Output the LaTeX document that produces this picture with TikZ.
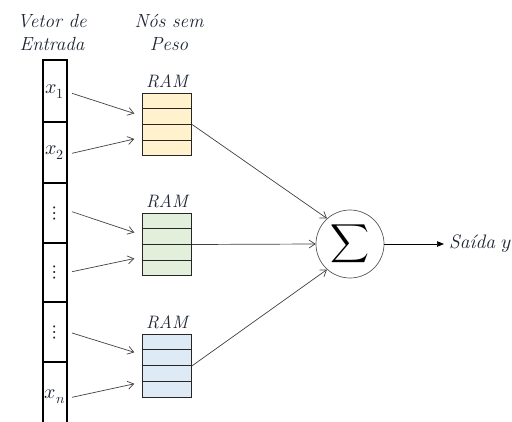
\documentclass[tikz,border=0pt]{standalone}
\usepackage{fontspec}
\usepackage{unicode-math}
\setmainfont{Latin Modern Roman}
\setmathfont{Latin Modern Math}
\usetikzlibrary{arrows.meta,calc}
\definecolor{ramyellow}{HTML}{FFF2CC}
\definecolor{ramgreen}{HTML}{E2EFDA}
\definecolor{ramblue}{HTML}{DEEBF7}
\definecolor{wire}{HTML}{404040}
\definecolor{ink}{HTML}{1C2433}
\begin{document}
\begin{tikzpicture}[x=1pt,y=-1pt,
  celltext/.style={text=ink,font=\fontsize{20}{22}\selectfont,inner sep=1pt},
  ram/.style={draw=black!85,line width=0.8pt,minimum width=49pt,minimum height=62.5pt,inner sep=0pt},
  lbl/.style={text=ink,font=\fontsize{18}{20}\selectfont\itshape,inner sep=0pt},
  head/.style={text=ink,font=\fontsize{19}{23}\selectfont\itshape,align=center,inner sep=0pt},
  feed/.style={draw=wire,line width=0.7pt,-{Straight Barb[length=6pt,width=8pt]}},
  outarrow/.style={draw=black,line width=0.7pt,-{Triangle[length=7pt,width=5.5pt]}},
  column/.style={draw=black,line width=1.8pt}
]
\useasboundingbox (0,0) rectangle (512,421);

% headings
\node[head] (hvec) at (52,32) {Vetor de\\Entrada};
\node[head] (hram) at (169,32) {Nós sem\\Peso};

% input vector column with its cells
\draw[column] (43,430) -- (43,60) -- (67,60) -- (67,430);
\foreach \y in {122,183,243,302,362}
  \draw[column] (43,\y) -- (67,\y);
\node[celltext] (c1) at (55,92) {$x_1$};
\node[celltext] (c2) at (55,153) {$x_2$};
\node[celltext] (c3) at (55,213) {$\vdots$};
\node[celltext] (c4) at (55,272.5) {$\vdots$};
\node[celltext] (c5) at (55,332) {$\vdots$};
\node[celltext] (c6) at (55,397) {$x_n$};

% RAM nodes
\node[ram,fill=ramyellow] (ram1) at (167.2,124.5) {};
\node[ram,fill=ramgreen] (ram2) at (167.2,244.5) {};
\node[ram,fill=ramblue,minimum height=63pt] (ram3) at (167.2,365.8) {};
\foreach \r in {ram1,ram2,ram3}{
  \foreach \k in {1,2,3}
    \draw[black!85,line width=0.8pt]
      ($(\r.north west)!\k/4!(\r.south west)$) -- ($(\r.north east)!\k/4!(\r.south east)$);
}
\node[lbl] (l1) at (167,81.7) {RAM};
\node[lbl] (l2) at (167,201.7) {RAM};
\node[lbl] (l3) at (167,322) {RAM};

% summation node and output
\node[draw=black!65,line width=0.7pt,circle,minimum size=68pt,inner sep=0pt,
  font=\fontsize{27}{30}\selectfont] (sum) at (350,244) {$\displaystyle\sum$};
\node[lbl,anchor=west,font=\fontsize{19.5}{22}\selectfont\itshape] (out) at (449,244) {Saída $y$};

% connections
\draw[feed] ($(c1)+(17,1.3)$) -- ($(ram1.west)+(-8,-11)$);
\draw[feed] ($(c2)+(17,0.3)$) -- ($(ram1.west)+(-8,14.5)$);
\draw[feed] ($(c3)+(17,-1.3)$) -- ($(ram2.west)+(-8,-12)$);
\draw[feed] ($(c4)+(17,-0.8)$) -- ($(ram2.west)+(-8,14)$);
\draw[feed] ($(c5)+(17,1)$) -- ($(ram3.west)+(-8,-13.5)$);
\draw[feed] ($(c6)+(17,0.3)$) -- ($(ram3.west)+(-8,18)$);

\draw[feed] (ram1.east) -- (sum.132);
\draw[feed] (ram2.east) -- (sum.west);
\draw[feed] (ram3.east) -- (sum.228);

\draw[outarrow] (sum.east) -- ($(out.west)+(-5,0)$);
\end{tikzpicture}
\end{document}
